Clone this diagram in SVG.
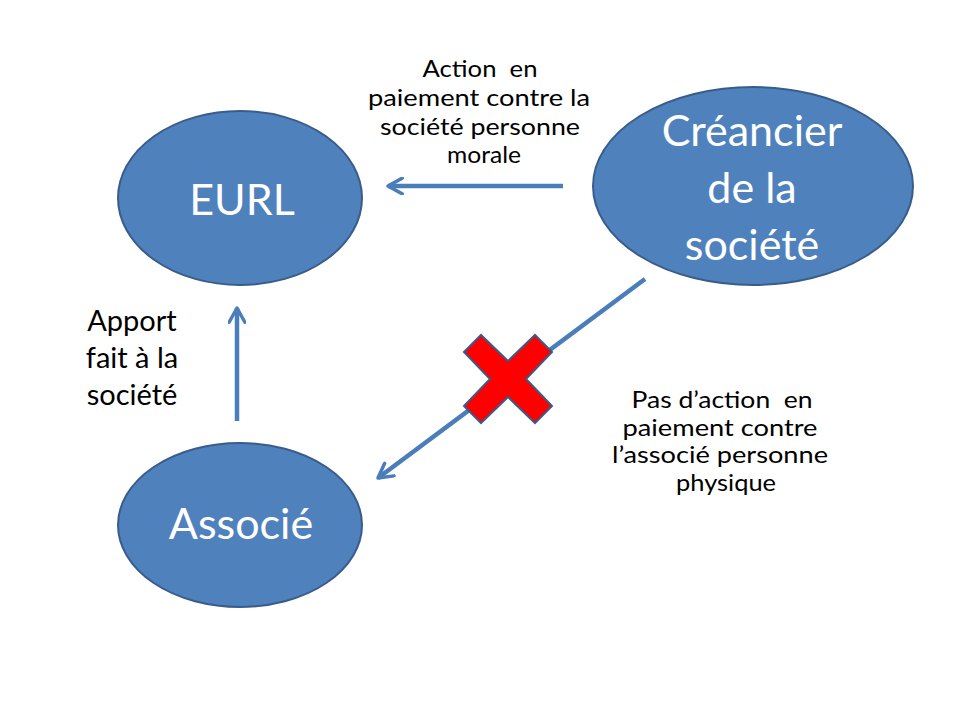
<svg xmlns="http://www.w3.org/2000/svg" width="960" height="720" viewBox="0 0 960 720">
<defs>
<style>
.node{fill:#4F81BD;stroke:#385D8A;stroke-width:2}
.ntext{font-family:Lato,"Open Sans",sans-serif;font-size:43px;fill:#FFFFFF;text-anchor:middle}
.lbl{font-family:Lato,"Open Sans",sans-serif;fill:#000000;text-anchor:middle}
.conn{stroke:#4A7EBB;stroke-width:4.5;fill:none;stroke-linecap:butt}
</style>
<marker id="arr" viewBox="0 0 12 12" refX="10" refY="6" markerWidth="4.2" markerHeight="4.2" markerUnits="strokeWidth" orient="auto">
<path d="M1,1 L10,6 L1,11" fill="none" stroke="#4A7EBB" stroke-width="2.2" stroke-linecap="round" stroke-linejoin="round"/>
</marker>
</defs>
<rect width="960" height="720" fill="#FFFFFF"/>
<g id="connectors">
<line class="conn" x1="563" y1="186" x2="388" y2="186" marker-end="url(#arr)"/>
<line class="conn" x1="237" y1="421" x2="237" y2="308" marker-end="url(#arr)"/>
<line class="conn" x1="645" y1="279" x2="378" y2="478" marker-end="url(#arr)"/>
</g>
<g id="cross">
<polygon points="464,352 481,335 508,361 535,335 552,352 526,379 552,406 535,423 508,397 481,423 464,406 490,379" fill="#FF0000" stroke="#3B5A87" stroke-width="2" stroke-linejoin="miter"/>
</g>
<g id="node-eurl">
<ellipse class="node" cx="240" cy="198" rx="122" ry="87"/>
<text class="ntext" x="242" y="215" font-size="41">EURL</text>
</g>
<g id="node-creancier">
<ellipse class="node" cx="753" cy="186" rx="160" ry="99"/>
<text class="ntext" x="752" y="146">Créancier</text>
<text class="ntext" x="752" y="203">de la</text>
<text class="ntext" x="752" y="260">société</text>
</g>
<g id="node-associe">
<ellipse class="node" cx="240" cy="525" rx="122" ry="82"/>
<text class="ntext" x="241" y="539">Associé</text>
</g>
<g id="label-action">
<text class="lbl" font-size="24" x="480" y="77" textLength="115" lengthAdjust="spacingAndGlyphs" xml:space="preserve">Action  en</text>
<text class="lbl" font-size="24" x="479" y="106" textLength="222" lengthAdjust="spacingAndGlyphs">paiement contre la</text>
<text class="lbl" font-size="24" x="480" y="135" textLength="200" lengthAdjust="spacingAndGlyphs">société personne</text>
<text class="lbl" font-size="24" x="484" y="163" textLength="74" lengthAdjust="spacingAndGlyphs">morale</text>
</g>
<g id="label-apport">
<text class="lbl" font-size="29" x="132" y="331">Apport</text>
<text class="lbl" font-size="29" x="132" y="368">fait à la</text>
<text class="lbl" font-size="29" x="132" y="405">société</text>
</g>
<g id="label-pas">
<text class="lbl" font-size="23" x="722" y="408" textLength="181" lengthAdjust="spacingAndGlyphs" xml:space="preserve">Pas d’action  en</text>
<text class="lbl" font-size="23" x="720" y="436" textLength="195" lengthAdjust="spacingAndGlyphs">paiement contre</text>
<text class="lbl" font-size="23" x="720" y="463" textLength="216" lengthAdjust="spacingAndGlyphs">l’associé personne</text>
<text class="lbl" font-size="23" x="726" y="491" textLength="100" lengthAdjust="spacingAndGlyphs">physique</text>
</g>
</svg>
